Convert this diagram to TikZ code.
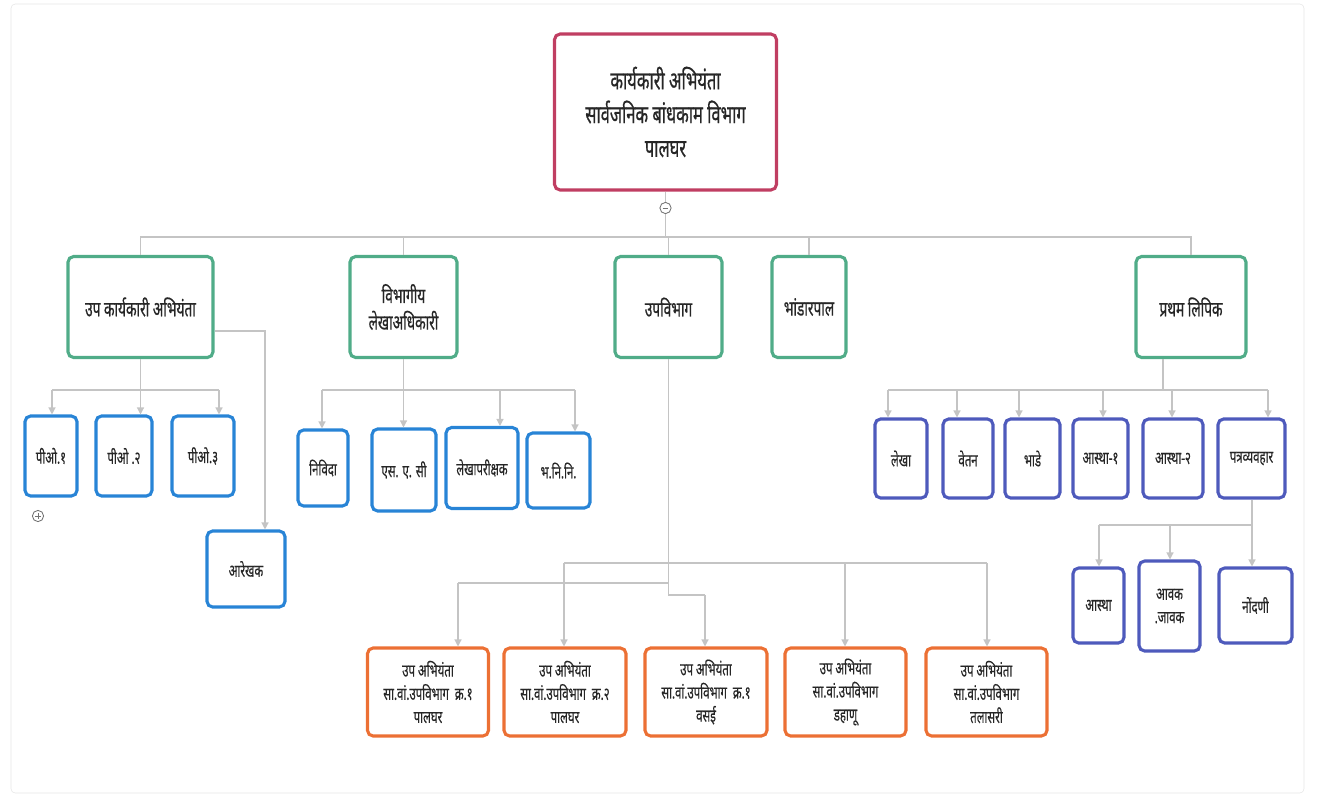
\documentclass[tikz,border=0pt]{standalone}
\usepackage{fontspec}
\newfontfamily\deva[Script=Devanagari,FakeStretch=0.65,FakeBold=0.6]{Noto Sans}
\newfontfamily\devalt[Script=Devanagari,FakeStretch=0.65,FakeBold=0.3]{Noto Sans}
\usetikzlibrary{arrows.meta}

\definecolor{rootred}{RGB}{192,62,98}
\definecolor{headgreen}{RGB}{80,172,136}
\definecolor{unitblue}{RGB}{40,132,214}
\definecolor{clerkblue}{RGB}{78,90,188}
\definecolor{suborange}{RGB}{236,112,52}
\definecolor{linkgray}{RGB}{196,196,196}
\definecolor{textgray}{RGB}{38,38,38}

\tikzset{
  box/.style={draw, rounded corners=4pt, line width=2.2pt, fill=white,
    align=center, text=textgray, inner sep=2pt},
  sz/.style 2 args={minimum width=#1*0.025cm, minimum height=#2*0.025cm},
  big/.style={font=\deva\fontsize{18}{24}\selectfont},
  mid/.style={font=\deva\fontsize{15}{19}\selectfont},
  small/.style={font=\devalt\fontsize{12.5}{16.5}\selectfont},
  link/.style={draw=linkgray, line width=0.9pt},
  arr/.style={link, -{Triangle[width=5pt,length=5pt]}},
  fold/.style={draw=black!55, circle, fill=white, minimum size=8pt, inner sep=0pt, line width=0.6pt},
}

\begin{document}
\begin{tikzpicture}[x=0.025cm, y=-0.025cm]
\useasboundingbox (0,0) rectangle (1321,798);
\draw[black!10, rounded corners=3pt] (11,4) rectangle (1304,793);

% head
\node[box, draw=rootred, big, sz={222}{156}] (root) at (665.5,112)
  {कार्यकारी अभियंता\\सार्वजनिक बांधकाम विभाग\\पालघर};

% first level
\node[box, draw=headgreen, mid, sz={145}{101}] (ukA) at (140.5,307) {उप कार्यकारी अभियंता};
\node[box, draw=headgreen, mid, sz={107}{101}] (vla) at (403.5,307) {विभागीय\\लेखाअधिकारी};
\node[box, draw=headgreen, mid, sz={107}{101}] (upv) at (668.5,307) {उपविभाग};
\node[box, draw=headgreen, mid, sz={74}{101}] (bhp) at (809,307) {भांडारपाल};
\node[box, draw=headgreen, mid, sz={110}{101}] (prl) at (1191,307) {प्रथम लिपिक};

% under upa karyakari abhiyanta
\node[box, draw=unitblue, small, sz={52}{80}] (po1) at (51,456) {पीओ.१};
\node[box, draw=unitblue, small, sz={56}{80}] (po2) at (124,456) {पीओ .२};
\node[box, draw=unitblue, small, sz={62}{80}] (po3) at (203,456) {पीओ.३};
\node[box, draw=unitblue, small, sz={78}{76}] (arekhak) at (246,569) {आरेखक};

% under lekhaadhikari
\node[box, draw=unitblue, small, sz={50}{76}] (nivida) at (323,468) {निविदा};
\node[box, draw=unitblue, small, sz={64}{82}] (sac) at (404,470) {एस. ए. सी};
\node[box, draw=unitblue, small, sz={72}{81}] (lekhap) at (482,468) {लेखापरीक्षक};
\node[box, draw=unitblue, small, sz={63}{75}] (bhnini) at (558.5,470.5) {भ.नि.नि.};

% under pratham lipik
\node[box, draw=clerkblue, small, sz={52}{79}] (lekha) at (901,458.5) {लेखा};
\node[box, draw=clerkblue, small, sz={50}{79}] (vetan) at (968,458.5) {वेतन};
\node[box, draw=clerkblue, small, sz={55}{79}] (bhade) at (1032.5,458.5) {भाडे};
\node[box, draw=clerkblue, small, sz={55}{79}] (astha1) at (1100.5,458.5) {आस्था-१};
\node[box, draw=clerkblue, small, sz={60}{79}] (astha2) at (1173,458.5) {आस्था-२};
\node[box, draw=clerkblue, small, sz={67}{79}] (patra) at (1251.5,458.5) {पत्रव्यवहार};
\node[box, draw=clerkblue, small, sz={51}{75}] (astha) at (1098.5,605.5) {आस्था};
\node[box, draw=clerkblue, small, sz={61}{90}] (avak) at (1169.5,606) {आवक\\.जावक};
\node[box, draw=clerkblue, small, sz={73}{75}] (nondani) at (1255.5,605.5) {नोंदणी};

% sub divisions
\node[box, draw=suborange, small, sz={121}{88}] (o1) at (428,692) {उप अभियंता\\सा.वां.उपविभाग \ क्र.१\\पालघर};
\node[box, draw=suborange, small, sz={122}{88}] (o2) at (565,692) {उप अभियंता\\सा.वां.उपविभाग \ क्र.२\\पालघर};
\node[box, draw=suborange, small, sz={122}{88}] (o3) at (706,692) {उप अभियंता\\सा.वां.उपविभाग \ क्र.१\\वसई};
\node[box, draw=suborange, small, sz={121}{88}] (o4) at (845.5,692) {उप अभियंता\\सा.वां.उपविभाग\\डहाणू};
\node[box, draw=suborange, small, sz={121}{88}] (o5) at (986.5,692) {उप अभियंता\\सा.वां.उपविभाग\\तलासरी};

% top bus
\coordinate (tb) at (665.5,237);
\draw[link] (root.south) -- (tb);
\draw[link] (ukA.north) |- (tb) -| (prl.north);
\draw[link] (vla.north) -- (vla.north |- tb);
\draw[link] (upv.north) -- (upv.north |- tb);
\draw[link] (bhp.north) -- (bhp.north |- tb);

% upa karyakari abhiyanta
\coordinate (ua) at (52,390);
\coordinate (uc) at (219,390);
\coordinate (ud) at (265,331);
\draw[link] (ukA.south) -- (ukA.south |- ua);
\draw[link] (ua) -- (uc);
\draw[arr] (ua) -- (ua |- po1.north);
\draw[arr] (ukA.south |- ua) -- (ukA.south |- po2.north);
\draw[arr] (uc) -- (uc |- po3.north);
\draw[arr] (ukA.east |- ud) -- (ud) -- (ud |- arekhak.north);

% lekhaadhikari
\coordinate (va) at (322,390);
\coordinate (vc) at (500,390);
\coordinate (vd) at (575,390);
\draw[link] (vla.south) -- (vla.south |- va);
\draw[link] (va) -- (vd);
\draw[arr] (va) -- (va |- nivida.north);
\draw[arr] (vla.south |- va) -- (vla.south |- sac.north);
\draw[arr] (vc) -- (vc |- lekhap.north);
\draw[arr] (vd) -- (vd |- bhnini.north);

% upvibhag
\coordinate (s1) at (458,583);
\coordinate (s2) at (564,563);
\coordinate (s3) at (705,595);
\coordinate (s4) at (845,563);
\coordinate (s5) at (987,563);
\draw[link] (upv.south) -- (upv.south |- s3) -- (s3);
\draw[link] (upv.south |- s1) -- (s1);
\draw[link] (s2) -- (s5);
\draw[arr] (s1) -- (s1 |- o1.north);
\draw[arr] (s2) -- (s2 |- o2.north);
\draw[arr] (s3) -- (s3 |- o3.north);
\draw[arr] (s4) -- (s4 |- o4.north);
\draw[arr] (s5) -- (s5 |- o5.north);

% pratham lipik
\coordinate (pm) at (1163,390);
\coordinate (p1) at (888,390);
\coordinate (p2) at (957,390);
\coordinate (p3) at (1019,390);
\coordinate (p4) at (1103,390);
\coordinate (p5) at (1172,390);
\coordinate (p6) at (1268,390);
\draw[link] (pm |- prl.south) -- (pm);
\draw[link] (p1) -- (p6);
\draw[arr] (p1) -- (p1 |- lekha.north);
\draw[arr] (p2) -- (p2 |- vetan.north);
\draw[arr] (p3) -- (p3 |- bhade.north);
\draw[arr] (p4) -- (p4 |- astha1.north);
\draw[arr] (p5) -- (p5 |- astha2.north);
\draw[arr] (p6) -- (p6 |- patra.north);

% patravyavahar
\coordinate (q1) at (1099,525);
\coordinate (q2) at (1170,525);
\coordinate (q3) at (1252,525);
\draw[link] (q3 |- patra.south) -- (q3) -- (q1);
\draw[arr] (q1) -- (q1 |- astha.north);
\draw[arr] (q2) -- (q2 |- avak.north);
\draw[arr] (q3) -- (q3 |- nondani.north);

% fold marks
\node[fold] (minus) at (665.5,208) {};
\draw[black!55, line width=0.6pt] ([xshift=-2pt]minus.center) -- ([xshift=2pt]minus.center);
\node[fold] (plus) at (38,516) {};
\draw[black!55, line width=0.6pt] ([xshift=-2pt]plus.center) -- ([xshift=2pt]plus.center);
\draw[black!55, line width=0.6pt] ([yshift=-2pt]plus.center) -- ([yshift=2pt]plus.center);
\end{tikzpicture}
\end{document}
